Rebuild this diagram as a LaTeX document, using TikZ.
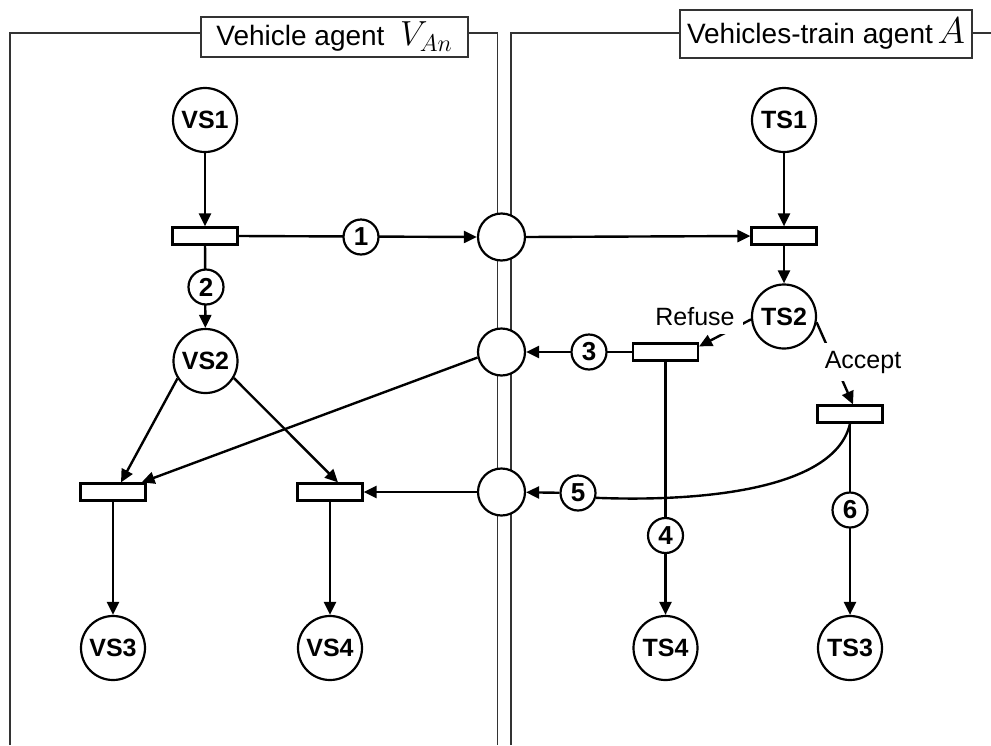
\documentclass[tikz,border=0pt]{standalone}
\usepackage{graphicx}
\usepackage{fontspec}
\setmainfont{Liberation Sans}
\usetikzlibrary{arrows.meta,backgrounds}
\tikzset{
 place/.style={circle,draw,line width=2.2pt,minimum size=64pt,inner sep=0pt,fill=white,font=\fontsize{25}{28}\selectfont\bfseries},
 num/.style={circle,draw,line width=2.2pt,minimum size=35pt,inner sep=0pt,fill=white,font=\fontsize{26}{28}\selectfont\bfseries},
 iface/.style={circle,draw,line width=2.2pt,minimum size=47pt,inner sep=0pt,fill=white},
 trans/.style={rectangle,draw,line width=2.2pt,minimum width=65pt,minimum height=17pt,inner sep=0pt,fill=white},
 conn/.style={line width=2.4pt},
 arr/.style={conn,-{Triangle[length=13pt,width=12pt]}},
 panel/.style={line width=1.3pt,draw=black!80},
 titlebox/.style={draw=black!80,line width=1.3pt,fill=white,inner sep=0pt,font=\fontsize{28}{32}\selectfont},
 choice/.style={fill=white,inner sep=8pt,font=\fontsize{25}{28}\selectfont}
}
\begin{document}
\begin{tikzpicture}[x=1pt,y=-1pt]
\useasboundingbox (0,0) rectangle (991,745);
% titles
\node[titlebox,minimum width=267pt,minimum height=40pt] (tl) at (334.5,37) {Vehicle agent\; {\fontsize{24}{28}\selectfont\scalebox{1.4}{$V_{An}$}}};
\node[titlebox,minimum width=292pt,minimum height=48pt] (tr) at (826,34) {Vehicles-train agent\,{\fontsize{24}{28}\selectfont\scalebox{1.5}{$A$}}};
% places
\node[place] (VS1) at (205,120) {VS1};
\node[place] (VS2) at (205.5,361) {VS2};
\node[place] (VS3) at (113,648) {VS3};
\node[place] (VS4) at (330,648) {VS4};
\node[place] (TS1) at (784,120) {TS1};
\node[place] (TS2) at (784,316.5) {TS2};
\node[place] (TS4) at (665.5,648) {TS4};
\node[place] (TS3) at (850,648) {TS3};
% interface places
\node[iface] (I1) at (501.5,237) {};
\node[iface] (I2) at (501.5,352) {};
\node[iface] (I3) at (501.5,492) {};
% transitions
\node[trans] (T1) at (205,236) {};
\node[trans] (TT) at (784,236) {};
\node[trans] (RefT) at (665.5,352) {};
\node[trans] (AccT) at (850,414) {};
\node[trans] (LT) at (113,492) {};
\node[trans] (RT) at (330,492) {};
% choice labels
\node[choice] (refuse) at (695,317) {Refuse};
\node[choice] (accept) at (863,362) {Accept};
% numbers
\node[num] (c1) at (361,237) {1};
\node[num] (c2) at (206,287) {2};
\node[num] (c3) at (589,352) {3};
\node[num] (c4) at (665.5,535.5) {4};
\node[num] (c5) at (578,493) {5};
\node[num] (c6) at (850,510) {6};
\begin{pgfonlayer}{background}
\draw[panel] (10,745) -- (10,33) -- (497.5,33) -- (497.5,745);
\draw[panel] (511,745) -- (511,33) -- (995,33);
\draw[arr] (VS1) -- (T1);
\draw[arr] (T1.east) -- (I1.west);
\draw[arr] (T1) -- (VS2);
\draw[arr] (I1.east) -- (TT.west);
\draw[arr] (TS1) -- (TT);
\draw[arr] (TT) -- (TS2);
\draw[arr] (TS2.185) -- ([yshift=-4pt]RefT.north east);
\draw[arr] (TS2.350) -- ([xshift=3pt]AccT.north);
\draw[arr] (RefT.west) -- (I2.east);
\draw[arr] (RefT) -- (TS4);
\draw[arr] (AccT) -- (TS3);
\draw[conn] (AccT.south) .. controls (835,490) and (700,502) .. (c5.-15);
\draw[arr] (c5) -- (I3);
\draw[arr] (I2.193) -- ([xshift=-5pt]LT.north east);
\draw[arr] (VS2.212) -- ([xshift=8pt]LT.north);
\draw[arr] (VS2.329) -- ([xshift=8pt]RT.north);
\draw[arr] (I3.west) -- (RT.east);
\draw[arr] (LT) -- (VS3);
\draw[arr] (RT) -- (VS4);
\end{pgfonlayer}
\end{tikzpicture}
\end{document}
